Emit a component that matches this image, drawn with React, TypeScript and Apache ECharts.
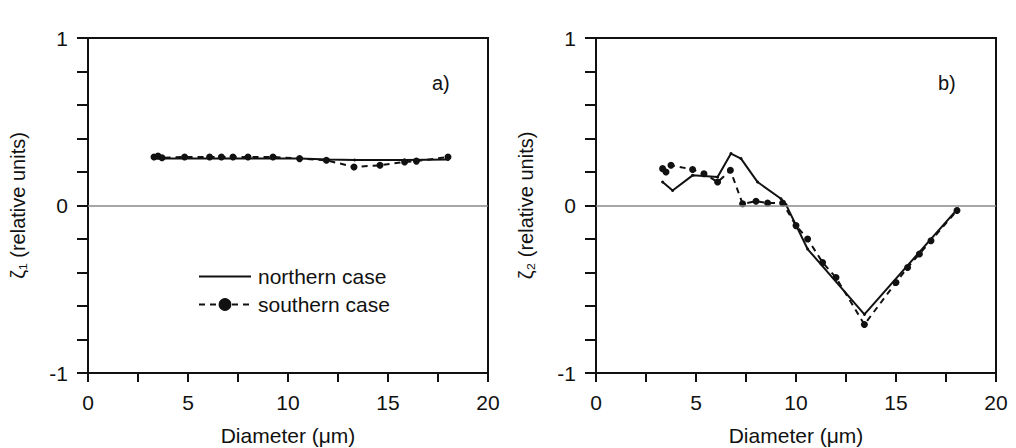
import React, { useEffect, useRef } from "react";
import * as echarts from "echarts";

// Panel a) — zeta_1
const aNorthX = [3.3, 3.8, 4.83, 6.08, 7.25, 9.25, 10.58, 12.0, 13.33, 15.83, 18.0];
const aNorthY = [0.28, 0.28, 0.28, 0.28, 0.28, 0.28, 0.28, 0.275, 0.272, 0.272, 0.275];
const aSouthX = [3.3, 3.5, 3.7, 4.83, 6.08, 6.67, 7.25, 8.0, 9.25, 10.58, 11.92, 13.3, 14.6, 15.83, 16.42, 18.0];
const aSouthY = [0.29, 0.295, 0.285, 0.29, 0.29, 0.29, 0.29, 0.29, 0.29, 0.28, 0.27, 0.23, 0.24, 0.26, 0.265, 0.29];

// Panel b) — zeta_2
const bNorthX = [3.33, 3.83, 4.83, 6.08, 6.75, 7.25, 8.08, 9.25, 9.5, 10.58, 13.42, 18.08];
const bNorthY = [0.14, 0.09, 0.18, 0.17, 0.31, 0.28, 0.14, 0.04, 0.005, -0.26, -0.65, -0.02];
const bSouthX = [3.33, 3.5, 3.75, 4.83, 5.4, 6.08, 6.72, 7.33, 8.0, 8.58, 9.33, 10.0, 10.58, 11.33, 12.0, 13.42, 15.0, 15.58, 16.17, 16.75, 18.05];
const bSouthY = [0.22, 0.2, 0.24, 0.215, 0.19, 0.14, 0.21, 0.01, 0.025, 0.015, 0.015, -0.12, -0.2, -0.34, -0.43, -0.71, -0.46, -0.37, -0.29, -0.21, -0.03];

const seriesNames = ["northern case", "southern case"];
const panelLabels = ["a)", "b)"];
const yTitles = ["ζ₁ (relative units)", "ζ₂ (relative units)"];
const xTitle = "Diameter (μm)";

const FONT = "'Liberation Sans', Arial, sans-serif";
const INK = "#111";

const pairs = (xs: number[], ys: number[]) => xs.map((x, i) => [x, ys[i]]);

export default function App() {
  const ref = useRef<HTMLDivElement>(null);
  useEffect(() => {
    if (!ref.current) return;
    const chart = echarts.init(ref.current, undefined, { renderer: "svg" });
    const grids = [
      { left: 88, right: 528, top: 38, bottom: 75 },
      { left: 596, right: 20, top: 38, bottom: 75 },
    ];
    const xAxes = grids.map((_, i) => ({
      type: "value",
      gridIndex: i,
      min: 0,
      max: 20,
      interval: 2.5,
      name: xTitle,
      nameLocation: "middle",
      nameGap: 52,
      nameTextStyle: { fontFamily: FONT, fontSize: 21, lineHeight: 21, color: INK },
      axisLine: { show: true, onZero: false, lineStyle: { color: INK, width: 2 } },
      axisTick: { show: true, inside: false, length: 9, lineStyle: { color: INK, width: 2 } },
      axisLabel: {
        margin: 19,
        fontFamily: FONT,
        fontSize: 21,
        color: INK,
        formatter: (v: number) => (Math.abs(v % 5) < 1e-6 ? String(v) : ""),
      },
      splitLine: { show: false },
    }));
    const yAxes = grids.map((_, i) => ({
      type: "value",
      gridIndex: i,
      min: -1,
      max: 1,
      interval: 0.2,
      name: yTitles[i],
      nameLocation: "middle",
      nameGap: 60,
      nameTextStyle: { fontFamily: FONT, fontSize: 20, color: INK },
      axisLine: { show: true, onZero: false, lineStyle: { color: INK, width: 2 } },
      axisTick: { show: true, inside: false, length: 11, lineStyle: { color: INK, width: 2 } },
      axisLabel: {
        margin: 20,
        fontFamily: FONT,
        fontSize: 21,
        color: INK,
        formatter: (v: number) =>
          Math.abs(v - Math.round(v)) < 1e-6 ? String(Math.round(v)) : "",
      },
      splitLine: { show: false },
    }));

    const zeroLine = {
      silent: true,
      symbol: "none",
      label: { show: false },
      lineStyle: { color: "#888", width: 1.5, type: "solid" },
      data: [{ yAxis: 0 }],
    };

    const mk = (i: number, north: number[][], south: number[][]) => [
      {
        name: seriesNames[0],
        type: "line",
        xAxisIndex: i,
        yAxisIndex: i,
        data: north,
        symbol: "circle",
        symbolSize: 3,
        itemStyle: { color: INK },
        lineStyle: { color: INK, width: 2, type: "solid" },
        markLine: zeroLine,
        z: 3,
      },
      {
        name: seriesNames[1],
        type: "line",
        xAxisIndex: i,
        yAxisIndex: i,
        data: south,
        symbol: "circle",
        symbolSize: 7,
        itemStyle: { color: INK },
        lineStyle: { color: INK, width: 2, type: [6, 5] },
        z: 4,
      },
    ];

    chart.setOption({
      animation: false,
      backgroundColor: "#fff",
      grid: grids.map((g) => ({
        ...g,
        show: true,
        borderColor: INK,
        borderWidth: 2,
        backgroundColor: "transparent",
        containLabel: false,
        outerBoundsMode: "none",
      })),
      xAxis: xAxes,
      yAxis: yAxes,
      legend: {
        data: [
          {
            name: seriesNames[0],
            itemStyle: { color: "rgba(0,0,0,0)", borderColor: "rgba(0,0,0,0)", borderWidth: 0 },
          },
          { name: seriesNames[1] },
        ],
        left: 198,
        top: 266,
        padding: 0,
        orient: "vertical",
        itemWidth: 52,
        itemHeight: 16,
        itemGap: 7,
        textStyle: { fontFamily: FONT, fontSize: 21, color: INK, padding: [0, 0, 0, 2] },
      },
      graphic: [
        { type: "text", left: 432, top: 73, style: { text: panelLabels[0], font: `20px ${FONT}`, fill: INK } },
        { type: "text", left: 938, top: 73, style: { text: panelLabels[1], font: `20px ${FONT}`, fill: INK } },
      ],
      series: [
        ...mk(0, pairs(aNorthX, aNorthY), pairs(aSouthX, aSouthY)),
        ...mk(1, pairs(bNorthX, bNorthY), pairs(bSouthX, bSouthY)),
      ],
    });
    return () => chart.dispose();
  }, []);
  return (
    <div
      ref={ref}
      style={{ position: "fixed", left: 0, top: 0, width: 1016, height: 448, background: "#fff" }}
    />
  );
}
